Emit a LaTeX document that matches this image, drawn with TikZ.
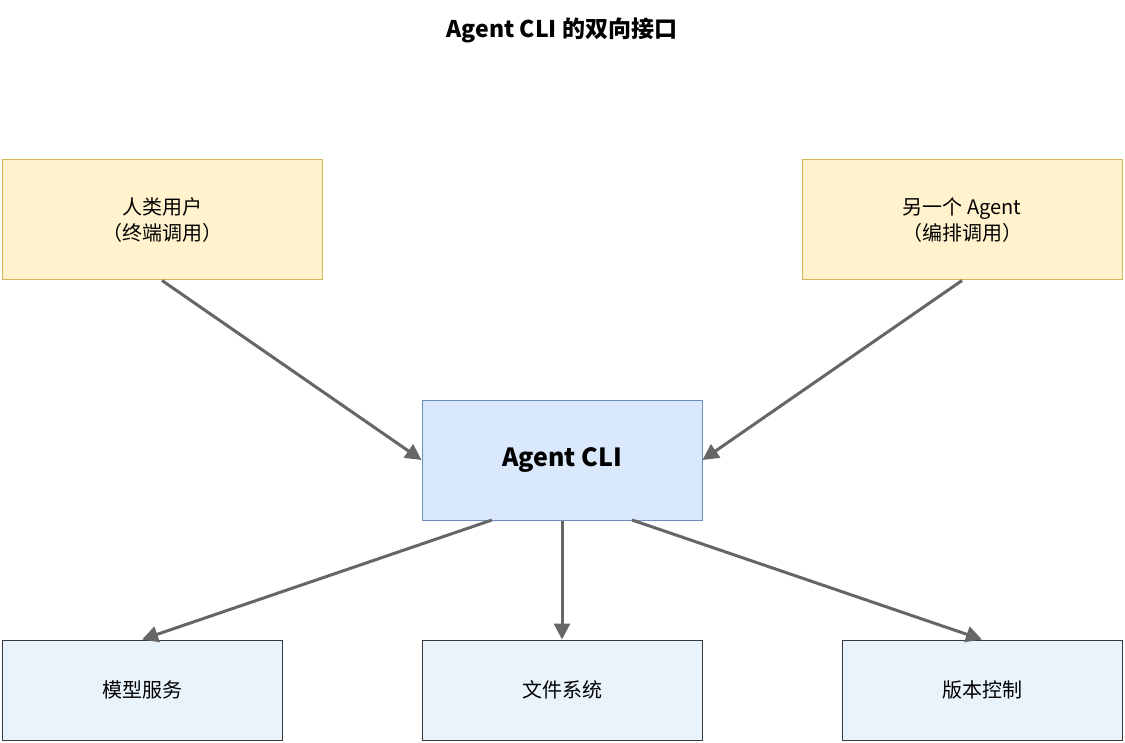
\documentclass[tikz,border=0pt]{standalone}
\usepackage{fontspec}
\setmainfont{Noto Sans CJK SC}
\usetikzlibrary{arrows.meta}
\definecolor{yfill}{HTML}{FFF2CC}\definecolor{ydraw}{HTML}{D6B656}
\definecolor{bfill}{HTML}{DAE8FC}\definecolor{bdraw}{HTML}{6C8EBF}
\definecolor{lfill}{HTML}{E8F3FC}\definecolor{ldraw}{HTML}{36393D}
\definecolor{arr}{HTML}{666666}
\begin{document}
\begin{tikzpicture}[x=1pt,y=-1pt,
  box/.style={draw,line width=1pt,minimum width=320pt,minimum height=120pt,align=center,font=\fontsize{20}{26}\selectfont,inner sep=0pt},
  ybox/.style={box,fill=yfill,draw=ydraw},
  lbox/.style={box,fill=lfill,draw=ldraw,minimum width=280pt,minimum height=100pt},
  ar/.style={draw=arr,line width=3pt,-{Triangle[length=16pt,width=16pt]}}]
\useasboundingbox (0,0) rectangle (1125,743);
\node[font=\bfseries\fontsize{23}{28}\selectfont] (t) at (562,30) {Agent CLI 的双向接口};
\node[ybox] (h) at (162,220) {人类用户\\（终端调用）};
\node[ybox] (o) at (962,220) {另一个 Agent\\（编排调用）};
\node[box,fill=bfill,draw=bdraw,minimum width=280pt,font=\bfseries\fontsize{25}{30}\selectfont] (c) at (562,460) {Agent CLI};
\node[lbox] (m) at (142,690) {模型服务};
\node[lbox] (f) at (562,690) {文件系统};
\node[lbox] (v) at (982,690) {版本控制};
\coordinate (c1) at (492,520);
\coordinate (c3) at (632,520);
\draw[ar] (h.south) -- (c.west);
\draw[ar] (o.south) -- (c.east);
\draw[ar] (c1) -- (m.north);
\draw[ar] (c.south) -- (f.north);
\draw[ar] (c3) -- (v.north);
\end{tikzpicture}
\end{document}
